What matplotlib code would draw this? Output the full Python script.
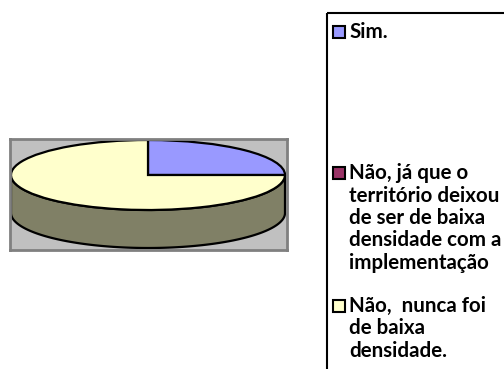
import numpy as np
import matplotlib.pyplot as plt
from matplotlib.patches import Wedge, Polygon, Rectangle

# slices, clockwise from 12 o'clock
labels = ['Sim.',
          'Não, já que o território deixou de ser de baixa densidade com a implementação',
          'Não,  nunca foi de baixa densidade.']
label_lines = [['Sim.'],
               ['Não, já que o', 'território deixou', 'de ser de baixa',
                'densidade com a', 'implementação'],
               ['Não,  nunca foi', 'de baixa', 'densidade.']]
values = [25, 0, 75]
top_colors = ['#9999ff', '#993366', '#ffffcc']
side_colors = ['#4c4c80', '#4c1a33', '#808066']

fig = plt.figure(figsize=(5.04, 3.69), dpi=100)

# pie area (gray plot box)
W, H = 504, 369
ax = fig.add_axes([10 / W, (H - 250) / H, 277 / W, 111 / H])
ax.set_facecolor('#c0c0c0')
for s in ax.spines.values():
    s.set_color('#808080')
    s.set_linewidth(2)
ax.set_xticks([])
ax.set_yticks([])
# unit circle squashed into an ellipse by the axes scaling
ax.set_xlim((10 - 148) / 137, (287 - 148) / 137)
ax.set_ylim((175 - 250) / 35, (175 - 139) / 35)
depth = 38 / 35

total = sum(values)
start = 90.0
spans = []
for v in values:
    sweep = 360.0 * v / total
    spans.append((start - sweep, start))
    start -= sweep

# side walls (front half only)
for (t1, t2), c, v in zip(spans, side_colors, values):
    if v == 0:
        continue
    a1, a2 = t1 % 360, t1 % 360 + (t2 - t1)
    for off in (0, 360, -360):
        lo = max(a1 + off, 180)
        hi = min(a2 + off, 360)
        if hi > lo:
            t = np.radians(np.linspace(lo, hi, 200))
            top = np.column_stack([np.cos(t), np.sin(t)])
            bot = np.column_stack([np.cos(t), np.sin(t) - depth])[::-1]
            ax.add_patch(Polygon(np.vstack([top, bot]), closed=True,
                                 facecolor=c, edgecolor='black', lw=1.6))

# top faces
for (t1, t2), c, v in zip(spans, top_colors, values):
    if v == 0:
        continue
    ax.add_patch(Wedge((0, 0), 1, t1, t2, facecolor=c,
                       edgecolor='black', lw=1.6))

# legend
lg = fig.add_axes([0, 0, 1, 1])
lg.set_xlim(0, W)
lg.set_ylim(H, 0)
lg.axis('off')
lg.add_patch(Rectangle((327, 12.7), 300, 400, facecolor='none',
                       edgecolor='black', lw=1.5))
first_base = [38, 179, 312]
line_h = 22.5
for lines, c, y0 in zip(label_lines, top_colors, first_base):
    lg.add_patch(Rectangle((333, y0 - 12), 12, 12, facecolor=c,
                           edgecolor='black', lw=1.5))
    for i, line in enumerate(lines):
        lg.text(349, y0 + i * line_h, line, fontsize=14.8, fontweight='bold',
                family='Lato', va='baseline', ha='left')

fig.savefig('out.png', dpi=100)
